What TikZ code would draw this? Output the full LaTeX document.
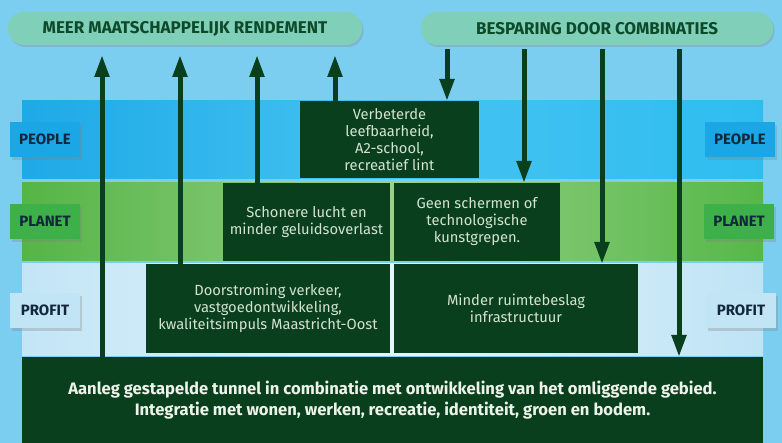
\documentclass[tikz,border=0pt]{standalone}
\usepackage{fontspec}
\setmainfont{Fira Sans}
\usepackage{tikz}
\usetikzlibrary{arrows.meta, positioning, shadows}
\definecolor{lucht}{HTML}{7CCEF1}
\definecolor{munt}{HTML}{7FCFB9}
\definecolor{pilgroen}{HTML}{0E4A2A}
\definecolor{donkergroen}{HTML}{0A3F1E}
\definecolor{vaktekst}{HTML}{D2E3D0}
\definecolor{basistekst}{HTML}{EEF3EA}
\definecolor{etikettekst}{HTML}{10283A}
\definecolor{peoplelinks}{HTML}{1EA9E7}
\definecolor{peoplemidden}{HTML}{45C3F1}
\definecolor{peoplerechts}{HTML}{2FBDF0}
\definecolor{planetlinks}{HTML}{55B546}
\definecolor{planetmidden}{HTML}{98D088}
\definecolor{planetrechts}{HTML}{56B848}
\definecolor{profitlinks}{HTML}{C3E5F6}
\definecolor{profitmidden}{HTML}{E6F5FC}
\definecolor{profitrechts}{HTML}{BEE3F5}
\definecolor{peopleetiket}{HTML}{1BA6E5}
\definecolor{planetetiket}{HTML}{3DB049}
\definecolor{profitetiket}{HTML}{C2E5F6}
\tikzset{
  pil/.style={rectangle, rounded corners=16pt, fill=munt, text=pilgroen,
    font=\bfseries\fontsize{17}{20}\selectfont, minimum width=354pt,
    minimum height=33pt, anchor=north west, outer sep=0pt,
    drop shadow={shadow xshift=1.5pt, shadow yshift=-2pt, opacity=.3}},
  band/.style={rectangle, anchor=north west, inner sep=0pt, outer sep=0pt,
    minimum width=741pt},
  etiket/.style={rectangle, anchor=north west, minimum width=70pt,
    minimum height=35pt, font=\bfseries\fontsize{15}{17}\selectfont,
    text=etikettekst, outer sep=0pt,
    drop shadow={shadow xshift=2pt, shadow yshift=-3pt, opacity=.3}},
  vak/.style={rectangle, anchor=north west, fill=donkergroen, text=vaktekst,
    align=center, font=\fontsize{14.7}{17}\selectfont, inner sep=0pt,
    outer sep=0pt},
  pijl/.style={-{Triangle[length=22pt, width=14pt]}, line width=5pt,
    draw=donkergroen}
}
\begin{document}
\begin{tikzpicture}[x=1pt, y=-1pt]

    \useasboundingbox (0,0) rectangle (782,443);
    \fill[lucht] (0,0) rectangle (782,443);

    \node[band, minimum height=78pt, left color=peoplelinks,
      right color=peoplerechts, middle color=peoplemidden] (people) at (22,101) {};
    \node[band, minimum height=78pt, left color=planetlinks,
      right color=planetrechts, middle color=planetmidden] (planet) at (22,183) {};
    \node[band, minimum height=92pt, left color=profitlinks,
      right color=profitrechts, middle color=profitmidden] (profit) at (22,264) {};

    \node[pil] (rendement) at (8,12) {MEER MAATSCHAPPELIJK RENDEMENT};
    \node[pil, minimum width=352pt] (besparing) at (421,12) {BESPARING DOOR COMBINATIES};

    \node[vak, minimum width=179pt, minimum height=77pt] (verbeterd) at (300,101)
      {Verbeterde\\leefbaarheid,\\A2-school,\\recreatief lint};
    \node[vak, minimum width=167pt, minimum height=78pt] (schoner) at (223,183)
      {Schonere lucht en\\minder geluidsoverlast};
    \node[vak, minimum width=166pt, minimum height=78pt] (geen) at (394,183)
      {Geen schermen of\\technologische\\kunstgrepen.};
    \node[vak, minimum width=244pt, minimum height=89pt] (doorstroming) at (146,264)
      {Doorstroming verkeer,\\vastgoedontwikkeling,\\kwaliteitsimpuls Maastricht-Oost};
    \node[vak, minimum width=244pt, minimum height=89pt] (ruimte) at (394,264)
      {Minder ruimtebeslag\\infrastructuur};
    \node[vak, minimum width=741pt, minimum height=86pt, text=basistekst,
      font=\bfseries\fontsize{16.6}{21}\selectfont] (tunnel) at (22,357)
      {Aanleg gestapelde tunnel in combinatie met ontwikkeling van het omliggende gebied.\\
       Integratie met wonen, werken, recreatie, identiteit, groen en bodem.};

    \node[etiket, fill=peopleetiket] (peoplelinks) at (10,122) {PEOPLE};
    \node[etiket, fill=peopleetiket] (peoplerechts) at (705,122) {PEOPLE};
    \node[etiket, fill=planetetiket] (planetlinks) at (10,204) {PLANET};
    \node[etiket, fill=planetetiket] (planetrechts) at (704,204) {PLANET};
    \node[etiket, fill=profitetiket] (profitlinks) at (10,293) {PROFIT};
    \node[etiket, fill=profitetiket] (profitrechts) at (706,293) {PROFIT};

    \coordinate (k1) at (102,0);
    \coordinate (k2) at (180,0);
    \coordinate (k3) at (257,0);
    \coordinate (k4) at (335,0);
    \coordinate (k5) at (447,0);
    \coordinate (k6) at (524,0);
    \coordinate (k7) at (602,0);
    \coordinate (k8) at (679,0);

    \foreach \k/\van in {k1/tunnel, k2/doorstroming, k3/schoner, k4/verbeterd}
      \draw[pijl, shorten >=10pt] (\k |- \van.north) -- (\k |- rendement.south);
    \foreach \k/\naar in {k5/verbeterd, k6/geen, k7/ruimte, k8/tunnel}
      \draw[pijl, shorten <=4pt] (\k |- besparing.south) -- (\k |- \naar.north);
  \end{tikzpicture}
\end{document}
